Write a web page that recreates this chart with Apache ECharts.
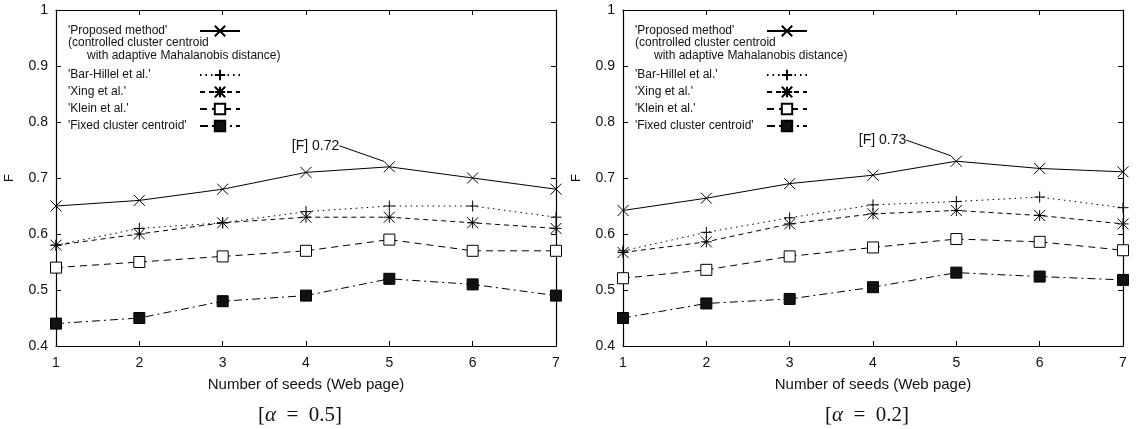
<!DOCTYPE html>
<html><head><meta charset="utf-8">
<script src="https://cdn.jsdelivr.net/npm/echarts@6/dist/echarts.min.js"></script>
<style>html,body{margin:0;padding:0;background:#fff}#c{width:1138px;height:429px}</style>
</head><body><div id="c"></div>
<script>
// ---- data ----
const seeds = [1, 2, 3, 4, 5, 6, 7];
const seriesNames = ["'Proposed method'", "'Bar-Hillel et al.'", "'Xing et al.'", "'Klein et al.'", "'Fixed cluster centroid'"];
const proposedNote1 = "(controlled cluster centroid";
const proposedNote2 = "with adaptive Mahalanobis distance)";
const xAxisTitle = "Number of seeds (Web page)";
const yAxisTitle = "F";
const yMin = 0.4, yMax = 1, yStep = 0.1;

// alpha = 0.5
const leftProposed  = [0.65, 0.66, 0.68, 0.71, 0.72, 0.70, 0.68];
const leftBarHillel = [0.58, 0.61, 0.62, 0.64, 0.65, 0.65, 0.63];
const leftXing      = [0.58, 0.60, 0.62, 0.63, 0.63, 0.62, 0.61];
const leftKlein     = [0.54, 0.55, 0.56, 0.57, 0.59, 0.57, 0.57];
const leftFixed     = [0.44, 0.45, 0.48, 0.49, 0.52, 0.51, 0.49];
// alpha = 0.2
const rightProposed  = [0.642, 0.664, 0.690, 0.705, 0.730, 0.717, 0.711];
const rightBarHillel = [0.570, 0.603, 0.629, 0.652, 0.658, 0.666, 0.647];
const rightXing      = [0.567, 0.586, 0.618, 0.636, 0.642, 0.633, 0.618];
const rightKlein     = [0.521, 0.536, 0.560, 0.576, 0.591, 0.586, 0.571];
const rightFixed     = [0.450, 0.476, 0.484, 0.505, 0.531, 0.524, 0.518];

const annotIndex = 4; // peak of proposed method
const captions = ['0.5', '0.2'];

// ---- styling ----
const FONT = "'Liberation Sans', Arial, sans-serif";
const SERIF = "'Liberation Serif', 'DejaVu Serif', serif";
const SYM_X = 'path://M0,0L10,10M10,0L0,10';
const SYM_PLUS = 'path://M5,0L5,10M0,5L10,5';
const SYM_STAR = 'path://M5,0L5,10M0,5L10,5M0,0L10,10M10,0L0,10';
const styles = [
  { symbol: SYM_X, dash: 'solid', fill: '#000', size: 11 },
  { symbol: SYM_PLUS, dash: [1.5, 4], fill: '#000', size: 11 },
  { symbol: SYM_STAR, dash: [5, 4], fill: '#000', size: 11 },
  { symbol: 'rect', dash: [7, 5], fill: '#fff', size: 11 },
  { symbol: 'rect', dash: [8, 4, 2, 4], fill: '#111', size: 11 }
];

const panels = [
  { left: 56, values: [leftProposed, leftBarHillel, leftXing, leftKlein, leftFixed] },
  { left: 623, values: [rightProposed, rightBarHillel, rightXing, rightKlein, rightFixed] }
];
const plotW = 500, plotTop = 10, plotH = 336;

const grid = [], xAxis = [], yAxis = [], series = [], legend = [], title = [];
const axisLineStyle = { color: '#000', width: 1.2 };
const tick = { show: true, inside: true, length: 5, lineStyle: { color: '#000', width: 1 } };

panels.forEach((p, g) => {
  grid.push({ left: p.left, top: plotTop, width: plotW, height: plotH });
  xAxis.push({
    gridIndex: g, type: 'category', data: seeds, boundaryGap: false, position: 'bottom',
    axisLine: { lineStyle: axisLineStyle }, axisTick: tick,
    axisLabel: { color: '#111', fontSize: 14, margin: 10, fontFamily: FONT },
    splitLine: { show: false },
    name: xAxisTitle, nameLocation: 'middle', nameGap: 31,
    nameTextStyle: { color: '#111', fontSize: 15, fontFamily: FONT }
  });
  xAxis.push({
    gridIndex: g, type: 'category', data: seeds, boundaryGap: false, position: 'top',
    axisLine: { lineStyle: axisLineStyle }, axisTick: tick, axisLabel: { show: false }, splitLine: { show: false }
  });
  yAxis.push({
    gridIndex: g, type: 'value', min: yMin, max: yMax, interval: yStep, position: 'left',
    axisLine: { show: true, lineStyle: axisLineStyle }, axisTick: tick,
    axisLabel: { color: '#111', fontSize: 14, margin: 8, fontFamily: FONT },
    splitLine: { show: false },
    name: yAxisTitle, nameLocation: 'middle', nameGap: 40, nameRotate: 90,
    nameTextStyle: { color: '#111', fontSize: 13, fontFamily: FONT }
  });
  yAxis.push({
    gridIndex: g, type: 'value', min: yMin, max: yMax, interval: yStep, position: 'right',
    axisLine: { show: true, lineStyle: axisLineStyle }, axisTick: tick,
    axisLabel: { show: false }, splitLine: { show: false }
  });

  p.values.forEach((vals, k) => {
    const st = styles[k];
    const data = vals.map((v, i) => {
      if (k === 0 && i === annotIndex) {
        return {
          value: v,
          label: {
            show: true, position: 'left', distance: 44,
            formatter: '[F] ' + v.toFixed(2),
            fontSize: 14, color: '#111', fontFamily: FONT
          }
        };
      }
      return v;
    });
    series.push({
      type: 'line', name: seriesNames[k], xAxisIndex: 2 * g, yAxisIndex: 2 * g,
      data: data, symbol: st.symbol, symbolSize: st.size, showSymbol: true,
      lineStyle: { color: '#000', width: 1, type: st.dash },
      itemStyle: { color: st.fill, borderColor: '#000', borderWidth: 1 },
      label: { show: false },
      labelLine: { show: true, lineStyle: { color: '#000', width: 1 } },
      labelLayout: { dy: -21 },
      animation: false, silent: true, z: 3
    });
  });

  const legendCommon = {
    orient: 'vertical', align: 'right', itemWidth: 40, itemHeight: 13, itemGap: 3, padding: 0,
    selectedMode: false, left: p.left + 12,
    formatter: name => '{t|' + name + '}',
    textStyle: {
      fontSize: 12, color: '#111', fontFamily: FONT, lineHeight: 14,
      rich: { t: { width: 127, align: 'left', fontSize: 12, color: '#111', fontFamily: FONT, lineHeight: 14 } }
    }
  };
  legend.push(Object.assign({}, legendCommon, { top: 24, data: [seriesNames[0]] }));
  legend.push(Object.assign({}, legendCommon, { top: 68, data: seriesNames.slice(1) }));

  title.push({ text: proposedNote1, left: p.left + 12, top: 37, padding: 0,
    textStyle: { fontSize: 12, fontWeight: 'normal', color: '#111', fontFamily: FONT } });
  title.push({ text: proposedNote2, left: p.left + 31, top: 50, padding: 0,
    textStyle: { fontSize: 12, fontWeight: 'normal', color: '#111', fontFamily: FONT } });
  title.push({
    text: '{b|[}{a|α}{b|  =  ' + captions[g] + ']}',
    left: p.left + plotW / 2 - 6, top: 405, textAlign: 'center', padding: 0,
    textStyle: {
      fontWeight: 'normal',
      rich: {
        a: { fontSize: 21, fontStyle: 'italic', fontWeight: 'normal', fontFamily: SERIF, color: '#111' },
        b: { fontSize: 21, fontWeight: 'normal', fontFamily: SERIF, color: '#111' }
      }
    }
  });
});

const chart = echarts.init(document.getElementById('c'), null, { renderer: 'canvas' });
chart.setOption({
  backgroundColor: '#fff',
  animation: false,
  grid, xAxis, yAxis, series, legend, title
});
</script>
</body></html>
